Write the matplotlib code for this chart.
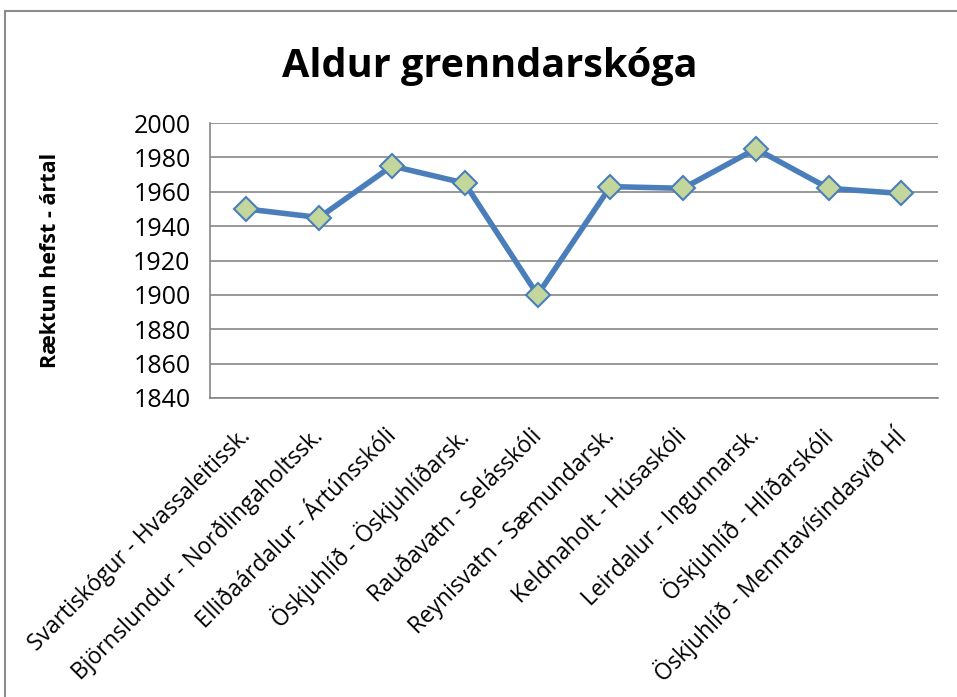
import matplotlib.pyplot as plt
from matplotlib.patches import Rectangle
import matplotlib.transforms as mtransforms

plt.rcParams['font.family'] = ['Open Sans', 'DejaVu Sans']

# skógar og skólar
stadir = ['Svartiskógur - Hvassaleitissk.',
          'Björnslundur - Norðlingaholtssk.',
          'Elliðaárdalur - Ártúnsskóli',
          'Öskjuhlíð - Öskjuhlíðarsk.',
          'Rauðavatn - Selásskóli',
          'Reynisvatn - Sæmundarsk.',
          'Keldnaholt - Húsaskóli',
          'Leirdalur - Ingunnarsk.',
          'Öskjuhlíð - Hlíðarskóli',
          'Öskjuhlíð - Menntavísindasvið HÍ']
artal = [1950, 1945, 1975, 1965, 1900, 1963, 1962, 1985, 1962, 1959]
y_ticks = [1840, 1860, 1880, 1900, 1920, 1940, 1960, 1980, 2000]

fig = plt.figure(figsize=(9.57, 6.97), dpi=100)
ax = fig.add_axes([0.2194, 0.429, 0.7606, 0.3945])

# rammi utan um myndina
fig.patches.append(Rectangle((5 / 957, -0.1), 1.2, 1.1 - 11 / 697,
                             transform=fig.transFigure, fill=False,
                             edgecolor='#8c8c8c', linewidth=1.5))

x = list(range(len(stadir)))
ax.plot(x, artal, color='#4A7EBB', linewidth=4, marker='D', markersize=12,
        markerfacecolor='#C3D69B', markeredgecolor='#4A7EBB', markeredgewidth=1.5,
        zorder=3)

ax.set_xlim(-0.5, len(stadir) - 0.5)
ax.set_ylim(1840, 2000)
ax.set_yticks(y_ticks)
ax.grid(axis='y', color='#868686', linewidth=1.2)
ax.set_axisbelow(True)
for s in ['top', 'right']:
    ax.spines[s].set_visible(False)
for s in ['left', 'bottom']:
    ax.spines[s].set_color('#868686')
    ax.spines[s].set_linewidth(1.2)

ax.tick_params(axis='y', length=0, pad=14, labelsize=18)
ax.tick_params(axis='x', length=0, pad=0, labelsize=16.4)
ax.set_xticks(x)
ax.set_xticklabels(stadir, rotation=45, ha='right', va='center',
                   rotation_mode='anchor')
offset = mtransforms.ScaledTranslation(0.5 / 72, -25 / 72, fig.dpi_scale_trans)
for lab in ax.get_xticklabels():
    lab.set_transform(lab.get_transform() + offset)

ax.set_ylabel('Ræktun hefst - ártal', fontsize=15.5, fontweight='bold')
ax.yaxis.set_label_coords(-0.205, 0.5)

fig.text(0.512, 0.905, 'Aldur grenndarskóga', fontsize=28.5, fontweight='bold',
         ha='center', va='center')

fig.savefig('out.png', dpi=100)
